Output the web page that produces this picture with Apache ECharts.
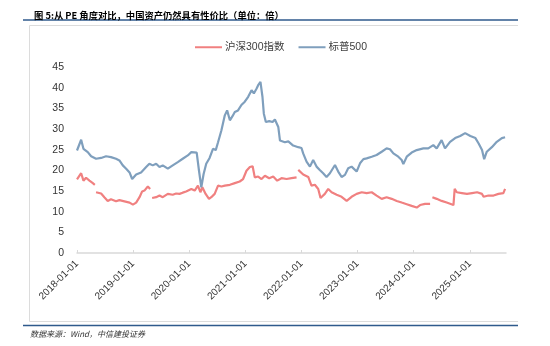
<!DOCTYPE html>
<html>
<head>
<meta charset="utf-8">
<script src="https://cdn.jsdelivr.net/npm/echarts@6/dist/echarts.min.js"></script>
<style>html,body{margin:0;padding:0;background:#fff;}#c{width:550px;height:346px;}</style>
</head>
<body>
<div id="c"></div>
<script>
var seriesNames = ['沪深300指数', '标普500'];

var hs300Dates = ['2018-01-01','2018-01-28','2018-02-12','2018-03-01','2018-03-23','2018-04-14','2018-04-27','2018-05-01','2018-05-05','2018-06-07','2018-06-28','2018-07-20','2018-08-10','2018-09-12','2018-10-04','2018-11-06','2018-12-09','2018-12-31','2019-01-21','2019-02-12','2019-03-01','2019-03-16','2019-04-07','2019-04-22','2019-04-30','2019-05-05','2019-05-31','2019-06-22','2019-07-13','2019-08-15','2019-09-16','2019-10-08','2019-10-30','2019-11-20','2019-12-12','2020-01-15','2020-02-06','2020-02-27','2020-03-14','2020-03-27','2020-04-17','2020-05-09','2020-05-24','2020-06-15','2020-07-07','2020-07-29','2020-08-20','2020-09-22','2020-10-24','2020-11-25','2020-12-17','2021-01-08','2021-01-30','2021-02-17','2021-03-03','2021-03-25','2021-04-16','2021-05-08','2021-06-05','2021-07-01','2021-07-27','2021-08-24','2021-09-26','2021-10-28','2021-11-30','2021-12-05','2021-12-11','2022-01-12','2022-02-14','2022-03-07','2022-03-29','2022-04-20','2022-05-05','2022-06-02','2022-06-24','2022-07-16','2022-08-18','2022-09-19','2022-10-22','2022-11-23','2022-12-26','2023-01-28','2023-03-01','2023-04-03','2023-05-05','2023-06-07','2023-07-09','2023-08-11','2023-09-13','2023-10-15','2023-11-17','2023-12-19','2024-01-21','2024-02-12','2024-03-15','2024-04-17','2024-04-22','2024-05-02','2024-05-30','2024-07-01','2024-08-03','2024-09-16','2024-09-24','2024-10-08','2024-11-10','2024-12-13','2025-01-15','2025-02-17','2025-03-21','2025-03-31','2025-05-02','2025-06-04','2025-07-06','2025-08-07','2025-08-18'];
var hs300Values = [17.8,19.3,17.5,18.2,17.5,16.9,16.5,null,14.7,14.4,13.5,12.6,13.0,12.5,12.8,12.5,12.2,11.7,12.2,13.5,14.9,15.1,16.1,15.5,null,13.3,13.5,13.9,13.5,14.3,14.1,14.4,14.3,14.6,14.9,15.5,15.1,16.3,14.7,15.9,14.3,13.1,13.5,14.3,16.3,16.1,16.3,16.5,16.9,17.3,17.9,19.9,20.8,21.0,18.3,18.5,17.9,18.7,18.1,18.5,17.5,18.1,17.9,18.1,18.3,null,20.1,19.0,18.4,16.3,16.5,15.5,13.3,14.3,15.5,14.7,14.1,13.6,12.6,13.6,14.3,14.7,14.5,14.7,13.9,13.1,13.5,13.1,12.6,12.2,11.8,11.4,11.0,11.6,11.9,11.9,null,13.5,13.1,12.6,12.2,11.6,15.5,14.7,14.5,14.3,14.5,14.7,14.3,13.6,13.9,13.9,14.3,14.5,15.5];

var sp500Dates = ['2018-01-01','2018-01-28','2018-02-12','2018-03-12','2018-04-03','2018-05-05','2018-06-07','2018-07-09','2018-08-10','2018-09-12','2018-10-04','2018-10-26','2018-11-17','2018-12-09','2018-12-26','2019-01-21','2019-02-22','2019-03-27','2019-04-17','2019-05-09','2019-05-31','2019-06-22','2019-07-13','2019-08-15','2019-09-16','2019-10-19','2019-11-20','2019-12-23','2020-01-15','2020-02-19','2020-03-05','2020-03-20','2020-04-04','2020-04-21','2020-05-13','2020-06-04','2020-06-22','2020-07-07','2020-07-29','2020-08-20','2020-09-04','2020-09-22','2020-10-09','2020-10-24','2020-11-14','2020-12-06','2020-12-28','2021-01-19','2021-02-10','2021-02-25','2021-03-15','2021-03-25','2021-04-09','2021-04-22','2021-05-01','2021-05-14','2021-06-05','2021-06-27','2021-07-12','2021-08-03','2021-08-14','2021-09-15','2021-10-07','2021-11-08','2021-12-11','2022-01-01','2022-01-12','2022-02-03','2022-02-25','2022-03-18','2022-04-09','2022-04-30','2022-05-22','2022-06-13','2022-07-05','2022-08-07','2022-08-28','2022-09-19','2022-10-11','2022-11-01','2022-11-23','2022-12-26','2023-01-17','2023-02-08','2023-03-01','2023-04-03','2023-05-05','2023-06-07','2023-07-09','2023-07-31','2023-08-22','2023-09-23','2023-10-15','2023-10-26','2023-11-17','2023-12-19','2024-01-21','2024-03-04','2024-04-05','2024-05-08','2024-05-30','2024-07-01','2024-07-23','2024-08-25','2024-09-27','2024-10-30','2024-12-01','2025-01-04','2025-02-06','2025-02-27','2025-03-21','2025-04-04','2025-04-21','2025-05-24','2025-06-25','2025-07-28','2025-08-18'];
var sp500Values = [24.8,27.4,25.2,24.4,23.4,22.8,23.0,23.4,23.2,22.8,22.4,21.2,20.4,19.5,17.9,19.0,19.5,20.8,21.6,21.2,21.6,20.8,21.2,20.4,21.2,22.0,22.8,23.6,24.4,24.3,19.9,15.9,19.1,21.6,23.0,25.2,24.9,26.8,29.7,33.3,34.5,32.1,33.1,34.1,34.5,35.8,36.6,37.8,39.4,38.6,39.8,40.6,41.4,37.8,33.7,31.7,31.9,31.7,32.3,30.5,27.2,26.8,27.0,26.0,25.6,25.4,24.1,22.1,20.9,22.5,20.9,20.1,19.3,18.4,19.3,21.3,19.7,18.4,18.9,20.5,20.9,19.7,21.7,22.7,22.9,23.3,23.7,24.5,25.3,25.1,24.1,23.3,22.5,21.5,23.3,24.3,24.9,25.3,25.3,26.1,25.3,27.3,25.3,26.9,27.8,28.3,29.0,28.3,27.8,26.5,24.9,22.7,24.5,25.6,26.9,27.8,28.0];

var tickLabels = ['2018-01-01','2019-01-01','2020-01-01','2021-01-01','2022-01-01','2023-01-01','2024-01-01','2025-01-01'];
var xMin = '2018-01-01';
var xMax = '2025-08-24';
var yTicks = [0, 45, 5]; // min, max, interval

function ts(s) { return new Date(s + 'T00:00:00').getTime(); }
function pairs(dates, vals) {
  return dates.map(function (d, i) { return [ts(d), vals[i] === null ? '-' : vals[i]]; });
}
var tickValues = tickLabels.map(ts);
function labelFor(v) {
  var i = tickValues.indexOf(v);
  return i >= 0 ? tickLabels[i] : '';
}

var chart = echarts.init(document.getElementById('c'), null, { renderer: 'canvas' });
var axisFont = 'Liberation Sans, Arial, sans-serif';
var cjkFont = 'Liberation Sans, Arial, "Noto Sans CJK SC", sans-serif';

chart.setOption({
  animation: false,
  backgroundColor: '#fff',
  title: {
    text: '图 5:从 PE 角度对比，中国资产仍然具有性价比（单位：倍）',
    left: 29, top: 6,
    textStyle: { fontSize: 9.3, fontWeight: 'bold', color: '#000', fontFamily: '"Noto Sans CJK SC", sans-serif' }
  },
  legend: {
    data: seriesNames,
    left: 190, top: 37,
    icon: 'rect',
    itemWidth: 27, itemHeight: 2, itemGap: 14,
    textStyle: { fontSize: 10.5, color: '#404040', fontFamily: cjkFont, padding: [0, 0, 0, -2] }
  },
  grid: { left: 77, right: 44, top: 67, bottom: 93 },
  xAxis: {
    type: 'value',
    min: ts(xMin), max: ts(xMax),
    splitLine: { show: false },
    axisLine: { lineStyle: { color: '#d9d9d9', width: 1.5 } },
    axisTick: { show: true, inside: true, length: 3, lineStyle: { color: '#d9d9d9' }, customValues: tickValues },
    axisLabel: {
      rotate: 45, fontSize: 10, color: '#333', margin: 9, fontFamily: axisFont,
      customValues: tickValues,
      formatter: function (v) { return labelFor(v); }
    }
  },
  yAxis: {
    type: 'value', min: yTicks[0], max: yTicks[1], interval: yTicks[2],
    axisLine: { show: false }, axisTick: { show: false }, splitLine: { show: false },
    axisLabel: { fontSize: 10.5, color: '#333', margin: 13, fontFamily: axisFont }
  },
  series: [
    {
      name: seriesNames[0], type: 'line', symbol: 'none', connectNulls: false,
      itemStyle: { color: '#F08080' },
      lineStyle: { color: '#F08080', width: 2.2 },
      data: pairs(hs300Dates, hs300Values)
    },
    {
      name: seriesNames[1], type: 'line', symbol: 'none', connectNulls: false,
      itemStyle: { color: '#7F9FBD' },
      lineStyle: { color: '#7F9FBD', width: 2.2 },
      data: pairs(sp500Dates, sp500Values)
    }
  ],
  graphic: [
    { type: 'line', shape: { x1: 23, y1: 20, x2: 518, y2: 20 }, style: { stroke: '#2F5A8C', lineWidth: 1.5 }, silent: true },
    { type: 'polyline', shape: { points: [[518, 25.5], [29.5, 25.5], [29.5, 321.5], [518, 321.5]] }, style: { stroke: '#dcdcdc', lineWidth: 1, fill: null }, silent: true },
    { type: 'line', shape: { x1: 23, y1: 325.5, x2: 518, y2: 325.5 }, style: { stroke: '#2F5A8C', lineWidth: 1.5 }, silent: true },
    { type: 'text', x: 30, y: 334, style: { text: '数据来源：Wind，中信建投证券', font: 'italic 8px "Noto Sans CJK SC", sans-serif', fill: '#333', textVerticalAlign: 'middle' }, silent: true }
  ]
});
</script>
</body>
</html>
